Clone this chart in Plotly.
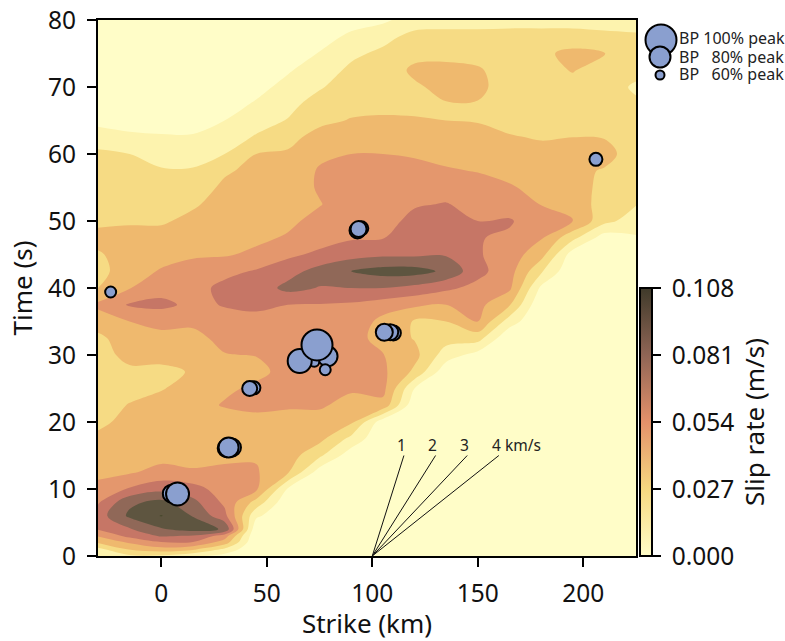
import plotly.graph_objects as go

W, H = 785, 641
TIME_S = [0, 1, 2, 3, 4, 6, 8, 10, 12.5, 15, 17.5, 20, 22.5, 25, 27.5, 30, 32.5, 35, 37.5, 40,
          42.5, 45, 47.5, 50, 52.5, 55, 57.5, 60, 62.5, 65, 67.5, 70, 72.5, 75, 77.5, 80]
STRIKE_KM = [-30, -15, 0, 15, 30, 45, 60, 75, 90, 105, 120, 135, 150, 165, 180, 195, 210, 225]
BAND_WIDTH = 0.0135  # m/s per colour band; the columns below are in band units

s_m30 = [1.5, 1.7, 3.1, 4.1, 5.1, 5.5, 4.9, 4.3, 3.75, 3.5, 3.15, 2.85, 2.6, 2.5, 2.5, 2.6, 2.75, 3.5, 4.2, 3.0,
         2.7, 2.9, 3.3, 2.8, 2.95, 2.6, 2.4, 2.2, 1.5, 0.7, 0.4, 0.3, 0.2, 0.1, 0.1, 0.1]
s_m15 = [1.8, 3.1, 4.1, 5.3, 5.9, 7.2, 6.8, 5.1, 3.9, 3.5, 3.3, 3.2, 3.05, 2.7, 2.8, 3.3, 3.6, 4.0, 5.1, 3.95,
         3.5, 3.4, 3.3, 2.9, 2.6, 2.5, 2.3, 2.0, 1.2, 0.6, 0.4, 0.3, 0.2, 0.1, 0.1, 0.1]
s_000 = [1.8, 3.6, 4.9, 6.1, 6.9, 8.05, 7.3, 5.7, 4.3, 3.7, 3.4, 3.0, 3.3, 2.95, 2.85, 3.2, 3.6, 4.4, 5.2, 4.7,
         4.1, 3.6, 3.3, 2.9, 2.6, 2.4, 2.1, 1.6, 1.1, 0.6, 0.4, 0.3, 0.2, 0.1, 0.1, 0.1]
s_015 = [1.2, 3.2, 4.9, 5.9, 7.4, 6.95, 6.3, 5.4, 4.1, 3.7, 3.4, 3.1, 3.3, 3.3, 3.05, 3.3, 3.7, 4.2, 4.8, 4.6,
         4.3, 3.9, 3.4, 3.2, 2.9, 2.6, 2.1, 1.6, 1.1, 0.6, 0.4, 0.3, 0.2, 0.1, 0.1, 0.1]
s_030 = [0.6, 1.8, 3.5, 4.5, 6.9, 5.3, 4.8, 4.5, 4.2, 3.8, 3.3, 3.05, 4.15, 3.7, 3.5, 3.95, 4.3, 4.7, 5.05, 5.3,
         4.7, 3.9, 3.7, 3.5, 3.3, 3.15, 2.9, 2.0, 1.5, 1.0, 0.6, 0.4, 0.3, 0.2, 0.1, 0.1]
s_045 = [0, 0, 0, 0.1, 0.2, 1.2, 2.6, 4.2, 4.1, 3.9, 3.7, 3.6, 4.3, 4.3, 3.6, 4.05, 4.4, 4.7, 5.2, 5.4,
         5.1, 4.2, 3.8, 3.6, 3.5, 3.4, 3.2, 3.0, 2.1, 1.6, 1.1, 0.7, 0.4, 0.3, 0.2, 0.1]
s_060 = [0, 0, 0, 0, 0, 0.1, 0.2, 0.9, 3.1, 3.5, 3.8, 3.7, 4.1, 4.3, 4.5, 4.6, 4.7, 4.8, 5.0, 6.3,
         5.6, 4.8, 4.1, 3.8, 3.6, 3.5, 3.3, 3.1, 2.75, 2.05, 1.7, 1.3, 0.9, 0.5, 0.3, 0.1]
s_075 = [0, 0, 0, 0, 0, 0, 0.1, 0.2, 0.5, 2.2, 3.3, 3.7, 4.1, 4.3, 4.5, 4.6, 4.7, 4.8, 4.95, 5.95,
         6.4, 5.2, 4.6, 4.3, 3.95, 4.1, 4.1, 3.8, 3.3, 2.8, 2.4, 1.9, 1.5, 1.05, 0.6, 0.2]
s_090 = [0, 0, 0, 0, 0, 0, 0, 0, 0.1, 0.4, 1.7, 3.2, 3.75, 4.1, 4.3, 4.4, 4.55, 4.7, 4.85, 6.0,
         7.0, 5.6, 4.9, 4.7, 4.5, 4.4, 4.2, 4.0, 3.5, 3.05, 2.75, 2.5, 2.2, 1.8, 1.2, 0.6]
s_105 = [0, 0, 0, 0, 0, 0, 0, 0, 0, 0, 0.1, 0.4, 3.7, 4.3, 4.2, 4.05, 3.5, 3.7, 4.5, 6.0,
         7.4, 5.8, 4.95, 4.6, 4.4, 4.3, 4.2, 4.0, 3.6, 3.1, 2.8, 2.6, 2.4, 2.2, 1.7, 0.8]
s_120 = [0, 0, 0, 0, 0, 0, 0, 0, 0, 0, 0, 0.1, 0.2, 1.0, 2.8, 3.3, 2.95, 2.9, 4.2, 5.7,
         7.4, 5.8, 5.6, 5.3, 4.9, 4.6, 4.3, 3.9, 3.5, 3.1, 2.7, 2.85, 3.2, 2.7, 2.3, 1.5]
s_135 = [0, 0, 0, 0, 0, 0, 0, 0, 0, 0, 0, 0, 0, 0.1, 0.3, 1.5, 2.4, 3.0, 4.0, 5.2,
         6.8, 5.9, 5.6, 5.4, 5.05, 4.6, 4.1, 3.7, 3.4, 3.0, 2.95, 3.3, 3.2, 2.8, 2.4, 1.5]
s_150 = [0, 0, 0, 0, 0, 0, 0, 0, 0, 0, 0, 0, 0, 0, 0.1, 0.6, 2.4, 4.0, 4.3, 4.7,
         5.3, 5.1, 5.05, 5.0, 4.7, 4.4, 3.95, 3.6, 3.3, 2.95, 2.95, 3.2, 3.1, 2.7, 2.4, 1.5]
s_165 = [0, 0, 0, 0, 0, 0, 0, 0, 0, 0, 0, 0, 0, 0, 0, 0, 0.1, 1.5, 3.1, 4.2,
         4.4, 4.5, 4.85, 5.1, 4.5, 4.1, 3.7, 3.4, 3.05, 2.8, 2.7, 2.6, 2.6, 2.5, 2.4, 1.6]
s_180 = [0, 0, 0, 0, 0, 0, 0, 0, 0, 0, 0, 0, 0, 0, 0, 0, 0, 0, 0.1, 0.8,
         2.15, 3.4, 4.1, 4.4, 3.97, 3.7, 3.4, 3.2, 2.95, 2.7, 2.6, 2.6, 2.7, 2.8, 2.4, 1.6]
s_195 = [0, 0, 0, 0, 0, 0, 0, 0, 0, 0, 0, 0, 0, 0, 0, 0, 0, 0, 0, 0,
         0.1, 0.5, 2.3, 4.05, 3.7, 3.5, 3.3, 3.2, 3.0, 2.7, 2.6, 2.7, 3.05, 3.25, 2.4, 1.6]
s_210 = [0, 0, 0, 0, 0, 0, 0, 0, 0, 0, 0, 0, 0, 0, 0, 0, 0, 0, 0, 0,
         0, 0.1, 0.5, 2.3, 2.5, 2.7, 2.9, 3.4, 2.95, 2.5, 2.3, 2.3, 2.6, 3.02, 2.3, 1.5]
s_225 = [0, 0, 0, 0, 0, 0, 0, 0, 0, 0, 0, 0, 0, 0, 0, 0, 0, 0, 0, 0,
         0, 0.1, 0.9, 1.5, 2.05, 2.3, 2.4, 2.4, 2.4, 2.3, 2.1, 1.9, 2.2, 2.3, 2.2, 1.4]
COLUMNS = [s_m30, s_m15, s_000, s_015, s_030, s_045, s_060, s_075, s_090, s_105, s_120, s_135,
           s_150, s_165, s_180, s_195, s_210, s_225]

BAND_COLORS = ["#FFFDC8", "#FDF3AE", "#F6DB84", "#EFB96E", "#E4976D", "#C67666", "#906858", "#5E5540", "#4A4A2E"]
BP_COLOR = "#8A9FCF"

# back-projection peaks, drawn back to front
bp_strike = [-24, 206, 94.8, 93, 93.5, 110, 108.5, 105.7, 43.9, 41.9, 33.5, 31, 31.9, 4.4, 5, 7.7, 78.8, 72.5, 77.7, 65.6, 73.8]
bp_time = [39.4, 59.2, 48.9, 48.6, 48.8, 33.3, 33.4, 33.4, 25.1, 25, 16.2, 16.1, 16.2, 9.3, 9.3, 9.25, 29.8, 29, 27.8, 29.1, 31.5]
bp_diam = [13, 15, 16, 18, 18, 17, 18, 19, 15, 17, 20, 20, 22, 17, 20, 25, 22, 12, 13, 26, 33]

vel_labels = ["1", "2", "3", "4 km/s"]
vel_end_km = [115, 130, 145, 160]
vel_end_s = 15
vel_origin_km = 100
vel_label_km = [112.3, 127, 142, 157]
vel_label_s = 16

cbar_ticks = [0, 0.027, 0.054, 0.081, 0.108]
cbar_text = ["\u00a00.000", "\u00a00.027", "\u00a00.054", "\u00a00.081", "\u00a00.108"]
cbar_colors = ["#FFFDC8", "#F6D880", "#E4916A", "#8F6555", "#3F3A2A"]

legend_labels = ["BP\u00a0100%\u00a0peak", "BP\u00a0\u00a0\u00a080%\u00a0peak", "BP\u00a0\u00a0\u00a060%\u00a0peak"]
legend_diam = [33, 23, 11]
legend_x = [661, 660, 660]
legend_y = [40, 57, 75]
legend_text_x = [679, 679, 679]
legend_text_y = [39.5, 58.5, 75.5]

FONT = "Noto Sans"
INK = "#111111"
zgrid = [[COLUMNS[c][r] * BAND_WIDTH for c in range(len(STRIKE_KM))] for r in range(len(TIME_S))]
n = len(BAND_COLORS)
step_scale = []
for i, col in enumerate(BAND_COLORS):
    step_scale += [[i / n, col], [(i + 1) / n, col]]


def fx(px):
    return px / W


def fy(py):
    return 1 - py / H


fig = go.Figure()
fig.add_trace(go.Contour(x=STRIKE_KM, y=TIME_S, z=zgrid, zmin=0, zmax=n * BAND_WIDTH, zauto=False,
                         colorscale=step_scale, showscale=False, hoverinfo="skip",
                         contours=dict(coloring="fill", start=BAND_WIDTH, end=8 * BAND_WIDTH, size=BAND_WIDTH),
                         line=dict(width=0)))
for end_km in vel_end_km:
    fig.add_trace(go.Scatter(x=[vel_origin_km, end_km], y=[0, vel_end_s], mode="lines",
                             line=dict(color=INK, width=1), hoverinfo="skip", showlegend=False))
fig.add_trace(go.Scatter(x=bp_strike, y=bp_time, mode="markers", showlegend=False,
                         marker=dict(size=[d - 2 for d in bp_diam], color=BP_COLOR, opacity=1,
                                     line=dict(color="black", width=2))))
fig.add_trace(go.Scatter(x=[None, None], y=[None, None], mode="markers", showlegend=False, hoverinfo="skip",
                         marker=dict(color=[0, 0.108], cmin=0, cmax=0.108, colorscale=[[i / 4, c] for i, c in enumerate(cbar_colors)],
                                     showscale=True,
                                     colorbar=dict(x=fx(640), xref="paper", xanchor="left", xpad=0, ypad=0,
                                                   y=fy(556), yref="paper", yanchor="bottom",
                                                   len=268, lenmode="pixels", thickness=12, thicknessmode="pixels",
                                                   outlinecolor="black", outlinewidth=2, ticks="outside", ticklen=8,
                                                   tickwidth=2, tickcolor="black", tickvals=cbar_ticks, ticktext=cbar_text,
                                                   tickfont=dict(family=FONT, size=24.5, color=INK),
                                                   title=dict(text="Slip rate (m/s)", side="right",
                                                              font=dict(family=FONT, size=26, color=INK))))))
# legend drawn in a small side axis measured in page pixels
LX0, LY1 = 638, 100
fig.add_trace(go.Scatter(x=legend_x, y=legend_y, xaxis="x2", yaxis="y2", mode="markers", showlegend=False, hoverinfo="skip",
                         cliponaxis=False,
                         marker=dict(size=[d - 2 for d in legend_diam], color=BP_COLOR, opacity=1,
                                     line=dict(color="black", width=2))))
fig.add_trace(go.Scatter(x=legend_text_x, y=legend_text_y, xaxis="x2", yaxis="y2", mode="text", showlegend=False, hoverinfo="skip",
                         cliponaxis=False, text=legend_labels, textposition="middle right",
                         textfont=dict(family=FONT, size=16, color="#222222")))

annotations = [dict(x=xa, y=vel_label_s, text=t, xref="x", yref="y", xanchor="left", yanchor="bottom", showarrow=False,
                    xshift=-3, yshift=-9, font=dict(family=FONT, size=15.5, color="#222222"))
               for xa, t in zip(vel_label_km, vel_labels)]

axis_common = dict(showgrid=False, zeroline=False, showline=True, linecolor="black", linewidth=2, mirror=True,
                   ticks="outside", ticklen=9, tickwidth=2, tickcolor="black", ticklabelstandoff=6,
                   tickfont=dict(family=FONT, size=24.5, color=INK))
fig.update_layout(
    width=W, height=H, margin=dict(l=0, r=0, t=0, b=0, autoexpand=False), paper_bgcolor="white", plot_bgcolor="white",
    showlegend=False, annotations=annotations,
    xaxis=dict(domain=[fx(98), fx(636)], range=[-30, 225], tickvals=[0, 50, 100, 150, 200], anchor="y",
               title=dict(text="Strike (km)", font=dict(family=FONT, size=26, color=INK), standoff=8), **axis_common),
    yaxis=dict(domain=[fy(556), fy(20)], range=[0, 80], tickvals=[0, 10, 20, 30, 40, 50, 60, 70, 80], anchor="x",
               title=dict(text="Time (s)", font=dict(family=FONT, size=26, color=INK), standoff=8), **axis_common),
    xaxis2=dict(domain=[fx(LX0), 1], range=[LX0, W], visible=False, anchor="y2"),
    yaxis2=dict(domain=[fy(LY1), 1], range=[LY1, 0], visible=False, anchor="x2"),
)
fig.write_html("out.html", default_width=f"{W}px", default_height=f"{H}px", config={"displayModeBar": False},
               post_script="document.body.style.margin='0';document.documentElement.style.overflow='hidden';")
